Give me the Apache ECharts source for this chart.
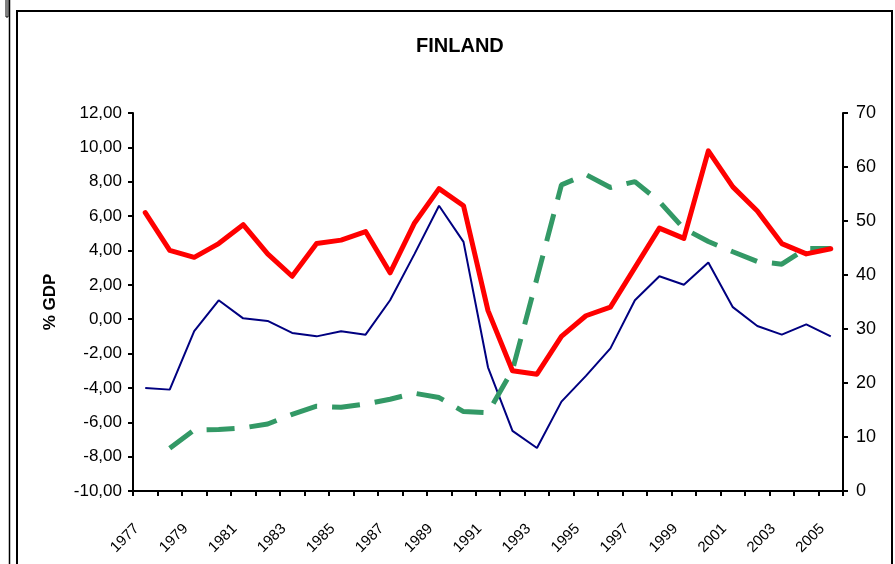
<!DOCTYPE html>
<html>
<head>
<meta charset="utf-8">
<script src="https://cdn.jsdelivr.net/npm/echarts@6/dist/echarts.min.js"></script>
<style>
  html, body { margin: 0; padding: 0; background: #fff; }
  #main { width: 895px; height: 564px; }
</style>
</head>
<body>
<div id="main"></div>
<script>
  // years on the category axis
  var years = ['1977', '1978', '1979', '1980', '1981', '1982', '1983', '1984', '1985', '1986',
    '1987', '1988', '1989', '1990', '1991', '1992', '1993', '1994', '1995', '1996',
    '1997', '1998', '1999', '2000', '2001', '2002', '2003', '2004', '2005']

  // red thick line, left axis (% GDP)
  var redSeries = [6.2, 4.0, 3.6, 4.4, 5.5, 3.8, 2.5, 4.4, 4.6, 5.1,
    2.7, 5.6, 7.6, 6.6, 0.5, -3.0, -3.2, -1.0, 0.2, 0.7,
    3.0, 5.3, 4.7, 9.8, 7.7, 6.3, 4.4, 3.8, 4.1]

  // blue thin line, left axis (% GDP)
  var blueSeries = [-4.0, -4.1, -0.7, 1.1, 0.05, -0.1, -0.8, -1.0, -0.7, -0.9,
    1.1, 3.8, 6.6, 4.5, -2.8, -6.5, -7.5, -4.8, -3.3, -1.7,
    1.1, 2.5, 2.0, 3.3, 0.7, -0.4, -0.9, -0.3, -1.0]

  // green dashed line, right axis
  var greenSeries = [null, 7.9, 11.3, 11.4, 11.7, 12.4, 14.2, 15.7, 15.5, 16.1,
    17.0, 18.1, 17.3, 14.7, 14.5, 22.4, 39.4, 56.7, 58.6, 56.2,
    57.3, 53.6, 48.6, 46.2, 44.3, 42.5, 42.0, 44.9, 44.9]

  var font = 'Liberation Sans, Arial, sans-serif'

  var myChart = echarts.init(document.getElementById('main'))

  var option = {
    backgroundColor: '#fff',
    animation: false,
    title: {
      text: 'FINLAND',
      left: 411,
      top: 31,
      textStyle: { fontFamily: font, fontSize: 20, fontWeight: 'bold', color: '#000' }
    },
    grid: { left: 133, right: 52, top: 113, bottom: 73 },
    xAxis: {
      type: 'category',
      data: years,
      boundaryGap: true,
      axisLine: { onZero: false, lineStyle: { color: '#000', width: 2 } },
      axisTick: { show: true, interval: 0, length: 5, lineStyle: { color: '#000', width: 2 } },
      axisLabel: {
        interval: 1,
        rotate: 45,
        margin: 27,
        padding: [0, 12, 0, 0],
        fontFamily: font,
        fontSize: 15,
        color: '#000'
      },
      splitLine: { show: false }
    },
    yAxis: [
      {
        type: 'value',
        min: -10,
        max: 12,
        interval: 2,
        name: '% GDP',
        nameLocation: 'middle',
        nameGap: 74,
        nameTextStyle: { fontFamily: font, fontSize: 17, fontWeight: 'bold', color: '#000' },
        axisLine: { show: true, onZero: false, lineStyle: { color: '#000', width: 2 } },
        axisTick: { show: true, length: 5, lineStyle: { color: '#000', width: 2 } },
        axisLabel: {
          margin: 11,
          fontFamily: font,
          fontSize: 17,
          color: '#000',
          formatter: function (v) { return v.toFixed(2).replace('.', ',') }
        },
        splitLine: { show: false }
      },
      {
        type: 'value',
        min: 0,
        max: 70,
        interval: 10,
        position: 'right',
        axisLine: { show: true, onZero: false, lineStyle: { color: '#000', width: 2 } },
        axisTick: { show: true, length: 5, lineStyle: { color: '#000', width: 2 } },
        axisLabel: { margin: 13, fontFamily: font, fontSize: 18, color: '#000' },
        splitLine: { show: false }
      }
    ],
    series: [
      {
        type: 'line',
        data: blueSeries,
        yAxisIndex: 0,
        symbol: 'none',
        lineStyle: { color: '#000080', width: 2 }
      },
      {
        type: 'line',
        data: greenSeries,
        yAxisIndex: 1,
        symbol: 'none',
        lineStyle: { color: '#339966', width: 5, type: [28, 15] }
      },
      {
        type: 'line',
        data: redSeries,
        yAxisIndex: 0,
        symbol: 'none',
        lineStyle: { color: '#ff0000', width: 5, cap: 'round', join: 'round' }
      }
    ],
    graphic: [
      // outer sheet edges
      { type: 'line', shape: { x1: 9.5, y1: 0, x2: 9.5, y2: 564 }, style: { stroke: '#000', lineWidth: 1.5 } },
      { type: 'rect', shape: { x: 6, y: -2, width: 2, height: 19 }, style: { fill: 'none', stroke: '#000', lineWidth: 1 } },
      // chart area box
      { type: 'polyline', shape: { points: [[17, 564], [17, 11], [892, 11], [892, 564]] }, style: { fill: 'none', stroke: '#000', lineWidth: 2 } }
    ]
  }

  myChart.setOption(option)
</script>
</body>
</html>
